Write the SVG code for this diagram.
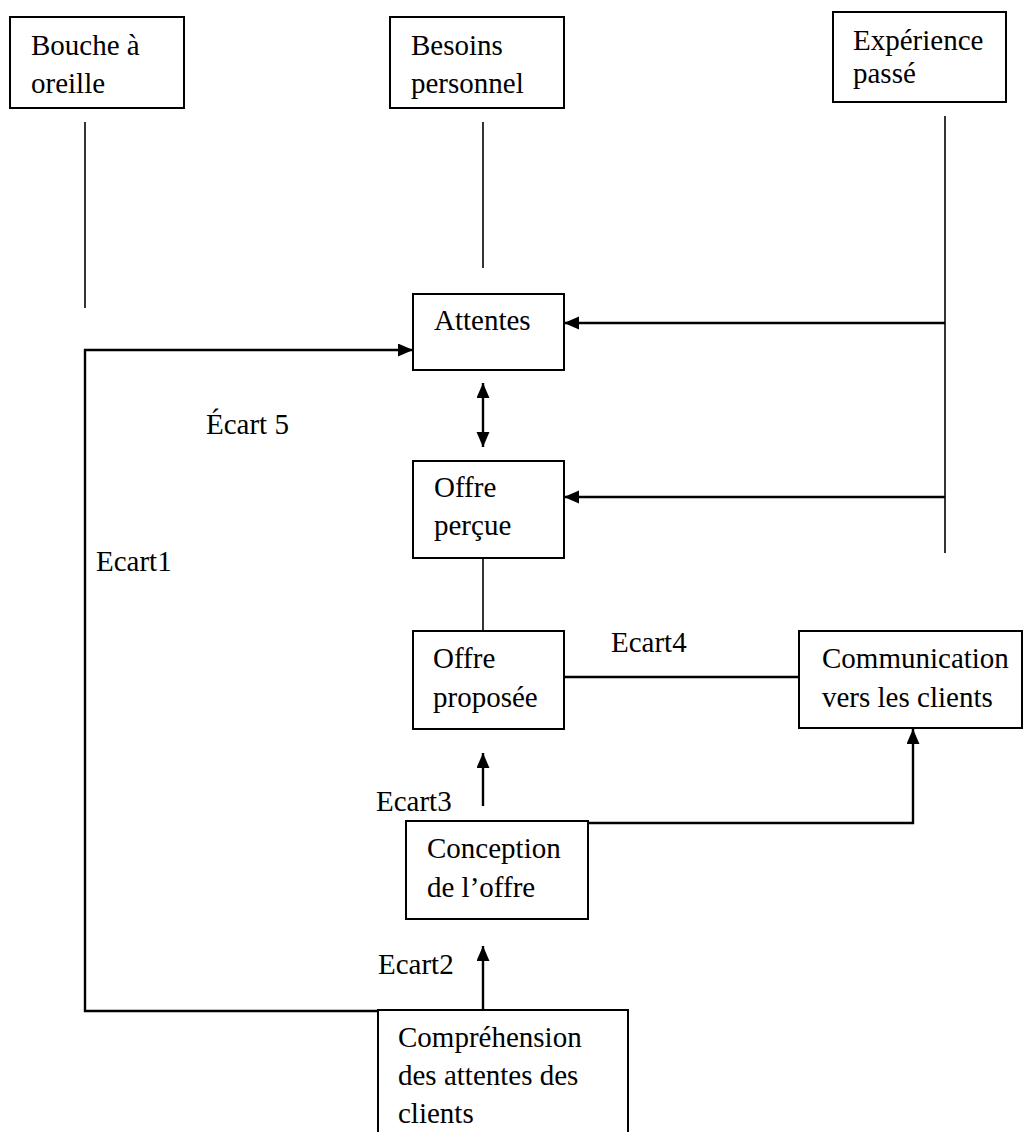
<svg xmlns="http://www.w3.org/2000/svg" width="1024" height="1132" viewBox="0 0 1024 1132">
  <style>
    .box { fill: #ffffff; stroke: #000000; stroke-width: 2; }
    .lbl { font-family: "Liberation Serif", "Times New Roman", serif; font-size: 29px; fill: #000000; }
    .ln { fill: none; stroke: #000000; stroke-width: 1.6; }
    .arr { fill: none; stroke: #000000; stroke-width: 2.4; }
  </style>
  <defs>
    <marker id="head" markerUnits="userSpaceOnUse" markerWidth="16" markerHeight="14" refX="15" refY="6.5" orient="auto-start-reverse">
      <path d="M0,0 L15,6.5 L0,13 z" fill="#000000"/>
    </marker>
  </defs>
  <rect width="1024" height="1132" fill="#ffffff"/>

  <g id="connectors">
    <!-- drops from the three source boxes -->
    <line class="ln" x1="85" y1="122" x2="85" y2="308"/>
    <line class="ln" x1="483" y1="122" x2="483" y2="268"/>
    <line class="ln" x1="945" y1="116" x2="945" y2="553"/>
    <!-- Expérience passé feeding Attentes and Offre perçue -->
    <line class="arr" x1="945" y1="323" x2="564" y2="323" marker-end="url(#head)"/>
    <line class="arr" x1="945" y1="497" x2="564" y2="497" marker-end="url(#head)"/>
    <!-- Écart 1 loop from Compréhension to Attentes -->
    <polyline class="arr" points="378,1011 85,1011 85,350 413,350" marker-end="url(#head)"/>
    <!-- Écart 5 -->
    <line class="arr" x1="483" y1="383" x2="483" y2="447" marker-start="url(#head)" marker-end="url(#head)"/>
    <!-- Offre perçue to Offre proposée -->
    <line class="ln" x1="483" y1="558" x2="483" y2="631"/>
    <!-- Écart 4 -->
    <line class="arr" x1="564" y1="677" x2="799" y2="677"/>
    <!-- Écart 3 -->
    <line class="arr" x1="483" y1="806" x2="483" y2="753" marker-end="url(#head)"/>
    <!-- Conception to Communication -->
    <polyline class="arr" points="588,823 913,823 913,729" marker-end="url(#head)"/>
    <!-- Écart 2 -->
    <line class="arr" x1="483" y1="1010" x2="483" y2="946" marker-end="url(#head)"/>
  </g>

  <g id="gap-labels">
    <text class="lbl" x="206" y="434">Écart 5</text>
    <text class="lbl" x="96" y="571">Ecart1</text>
    <text class="lbl" x="611" y="652">Ecart4</text>
    <text class="lbl" x="376" y="811">Ecart3</text>
    <text class="lbl" x="378" y="974">Ecart2</text>
  </g>

  <g id="bouche-oreille">
    <rect class="box" x="10" y="17" width="174" height="91"/>
    <text class="lbl" x="31" y="55">Bouche à</text>
    <text class="lbl" x="31" y="93">oreille</text>
  </g>

  <g id="besoins-personnel">
    <rect class="box" x="390" y="17" width="174" height="91"/>
    <text class="lbl" x="411" y="55">Besoins</text>
    <text class="lbl" x="411" y="93">personnel</text>
  </g>

  <g id="experience-passe">
    <rect class="box" x="833" y="12" width="173" height="90"/>
    <text class="lbl" x="853" y="50">Expérience</text>
    <text class="lbl" x="853" y="83">passé</text>
  </g>

  <g id="attentes">
    <rect class="box" x="413" y="294" width="151" height="76"/>
    <text class="lbl" x="434" y="330">Attentes</text>
  </g>

  <g id="offre-percue">
    <rect class="box" x="413" y="461" width="151" height="97"/>
    <text class="lbl" x="434" y="497">Offre</text>
    <text class="lbl" x="434" y="535">perçue</text>
  </g>

  <g id="offre-proposee">
    <rect class="box" x="413" y="631" width="151" height="98"/>
    <text class="lbl" x="433" y="668">Offre</text>
    <text class="lbl" x="433" y="707">proposée</text>
  </g>

  <g id="communication">
    <rect class="box" x="799" y="631" width="223" height="97"/>
    <text class="lbl" x="822" y="668">Communication</text>
    <text class="lbl" x="822" y="707">vers les clients</text>
  </g>

  <g id="conception">
    <rect class="box" x="406" y="821" width="182" height="98"/>
    <text class="lbl" x="427" y="858">Conception</text>
    <text class="lbl" x="427" y="897">de l’offre</text>
  </g>

  <g id="comprehension">
    <rect class="box" x="378" y="1010" width="250" height="130"/>
    <text class="lbl" x="398" y="1047">Compréhension</text>
    <text class="lbl" x="398" y="1085">des attentes des</text>
    <text class="lbl" x="398" y="1123">clients</text>
  </g>
</svg>
